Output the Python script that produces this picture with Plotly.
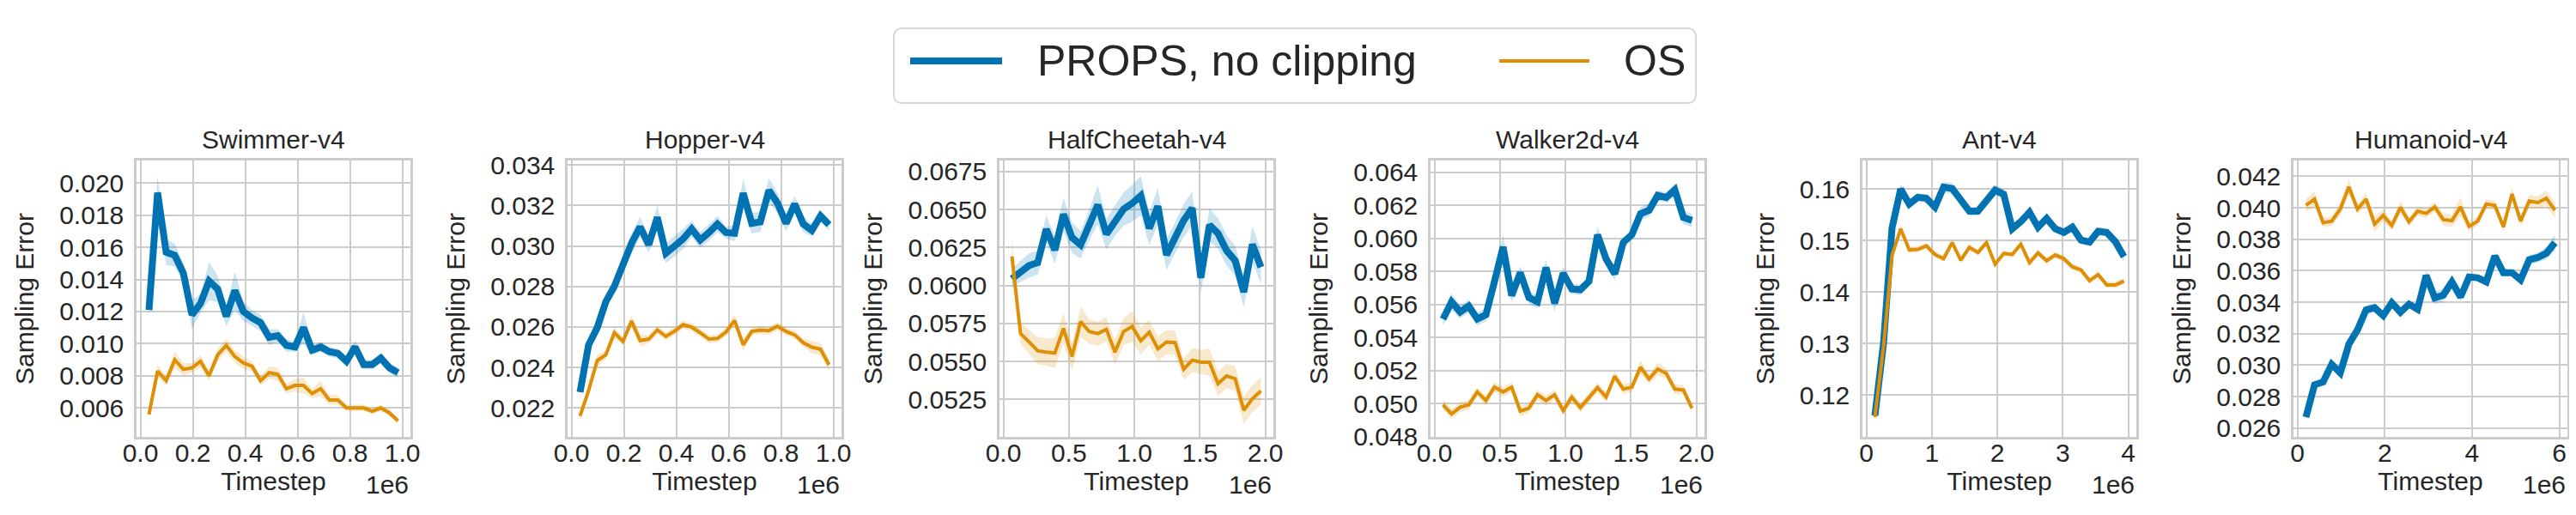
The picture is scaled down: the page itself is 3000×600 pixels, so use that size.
import plotly.graph_objects as go

envs = ["Swimmer-v4", "Hopper-v4", "HalfCheetah-v4", "Walker2d-v4", "Ant-v4", "Humanoid-v4"]
# evaluation interval (timesteps) and number of evaluations per run
eval_every = [32768, 32768, 65536, 65536, 131072, 196608]
n_evals = 30

swimmer_props = [0.0121, 0.0194, 0.0157, 0.0155, 0.0144, 0.0118, 0.0125, 0.0139, 0.0134, 0.0117,
                 0.0133, 0.0120, 0.0116, 0.0113, 0.0104, 0.0105, 0.0099, 0.0098, 0.0110, 0.0096,
                 0.0098, 0.0095, 0.0094, 0.0089, 0.0098, 0.0087, 0.0087, 0.0091, 0.0085, 0.0082]
swimmer_props_err = [0.0004, 0.0010, 0.0008, 0.0007, 0.0006, 0.0009, 0.0006, 0.0012, 0.0008, 0.0006,
                     0.0012, 0.0006, 0.0005, 0.0005, 0.0005, 0.0004, 0.0004, 0.0003, 0.0010, 0.0003,
                     0.0003, 0.0003, 0.0003, 0.0003, 0.0004, 0.0003, 0.0003, 0.0003, 0.0003, 0.0003]
swimmer_os = [0.0056, 0.0083, 0.0077, 0.0090, 0.0084, 0.0085, 0.0089, 0.0080, 0.0093, 0.0099,
              0.0092, 0.0088, 0.0086, 0.0077, 0.0082, 0.0081, 0.0072, 0.0074, 0.0074, 0.0069,
              0.0072, 0.0065, 0.0065, 0.0060, 0.0060, 0.0060, 0.0058, 0.0060, 0.0057, 0.0052]
swimmer_os_err = [0.0002, 0.0004, 0.0003, 0.0005, 0.0004, 0.0003, 0.0004, 0.0003, 0.0004, 0.0004,
                  0.0004, 0.0004, 0.0003, 0.0003, 0.0004, 0.0004, 0.0003, 0.0004, 0.0005, 0.0003,
                  0.0005, 0.0003, 0.0003, 0.0002, 0.0002, 0.0002, 0.0002, 0.0002, 0.0002, 0.0002]

hopper_props = [0.02278, 0.02512, 0.02596, 0.02724, 0.02801, 0.02914, 0.03013, 0.03094, 0.03006, 0.03141,
                0.02964, 0.02999, 0.03035, 0.03084, 0.03030, 0.03066, 0.03108, 0.03066, 0.03063, 0.03261,
                0.03112, 0.03119, 0.03275, 0.03211, 0.03112, 0.03207, 0.03108, 0.03077, 0.03148, 0.03105]
hopper_props_err = [0.0002, 0.0002, 0.0003, 0.0003, 0.0003, 0.0004, 0.0005, 0.0005, 0.0004, 0.0006,
                    0.0005, 0.0005, 0.0005, 0.0004, 0.0004, 0.0004, 0.0004, 0.0003, 0.0004, 0.0007,
                    0.0005, 0.0005, 0.0006, 0.0005, 0.0004, 0.0004, 0.0004, 0.0003, 0.0003, 0.0003]
hopper_os = [0.02160, 0.02286, 0.02434, 0.02462, 0.02572, 0.02529, 0.02629, 0.02533, 0.02540, 0.02585,
             0.02554, 0.02579, 0.02611, 0.02599, 0.02571, 0.02540, 0.02543, 0.02575, 0.02632, 0.02512,
             0.02578, 0.02585, 0.02582, 0.02604, 0.02578, 0.02561, 0.02522, 0.02500, 0.02490, 0.02413]
hopper_os_err = [0.0002, 0.0003, 0.0003, 0.0002, 0.0003, 0.0002, 0.0003, 0.0003, 0.0002, 0.0002,
                 0.0002, 0.0002, 0.0002, 0.0002, 0.0002, 0.0002, 0.0002, 0.0002, 0.0003, 0.0003,
                 0.0002, 0.0002, 0.0002, 0.0002, 0.0002, 0.0002, 0.0002, 0.0003, 0.0003, 0.0003]

cheetah_props = [0.06044, 0.06093, 0.06131, 0.06150, 0.06370, 0.06233, 0.06468, 0.06314, 0.06267, 0.06398,
                 0.06530, 0.06338, 0.06427, 0.06502, 0.06540, 0.06590, 0.06376, 0.06521, 0.06201, 0.06314,
                 0.06427, 0.06508, 0.06050, 0.06398, 0.06342, 0.06229, 0.06163, 0.05956, 0.06270, 0.06120]
cheetah_props_err = [0.0006, 0.0007, 0.0008, 0.0008, 0.0009, 0.0009, 0.0011, 0.0010, 0.0009, 0.0010,
                     0.0013, 0.0010, 0.0010, 0.0011, 0.0012, 0.0013, 0.0011, 0.0012, 0.0010, 0.0010,
                     0.0011, 0.0011, 0.0010, 0.0011, 0.0010, 0.0010, 0.0010, 0.0010, 0.0012, 0.0011]
cheetah_os = [0.06191, 0.05683, 0.05627, 0.05570, 0.05561, 0.05555, 0.05717, 0.05532, 0.05762, 0.05696,
              0.05683, 0.05711, 0.05561, 0.05696, 0.05730, 0.05636, 0.05692, 0.05583, 0.05627, 0.05623,
              0.05448, 0.05508, 0.05495, 0.05495, 0.05353, 0.05404, 0.05386, 0.05178, 0.05254, 0.05306]
cheetah_os_err = [0.0012, 0.0007, 0.0008, 0.0009, 0.0009, 0.0010, 0.0010, 0.0009, 0.0010, 0.0008,
                  0.0008, 0.0008, 0.0008, 0.0009, 0.0010, 0.0009, 0.0008, 0.0008, 0.0008, 0.0008,
                  0.0007, 0.0008, 0.0008, 0.0009, 0.0008, 0.0008, 0.0008, 0.0009, 0.0009, 0.0009]

walker_props = [0.05512, 0.05616, 0.05555, 0.05590, 0.05512, 0.05538, 0.05740, 0.05948, 0.05654, 0.05792,
                0.05642, 0.05616, 0.05824, 0.05607, 0.05789, 0.05694, 0.05689, 0.05740, 0.06022, 0.05875,
                0.05785, 0.05976, 0.06022, 0.06149, 0.06170, 0.06260, 0.06247, 0.06294, 0.06126, 0.06109]
walker_props_err = [0.0004, 0.0005, 0.0004, 0.0004, 0.0004, 0.0004, 0.0004, 0.0007, 0.0004, 0.0004,
                    0.0004, 0.0004, 0.0005, 0.0005, 0.0004, 0.0003, 0.0003, 0.0003, 0.0005, 0.0004,
                    0.0004, 0.0003, 0.0003, 0.0004, 0.0004, 0.0003, 0.0003, 0.0004, 0.0004, 0.0004]
walker_os = [0.04993, 0.04938, 0.04979, 0.04993, 0.05071, 0.05019, 0.05100, 0.05071, 0.05100, 0.04955,
             0.04972, 0.05054, 0.05019, 0.05054, 0.04958, 0.05040, 0.04976, 0.05036, 0.05097, 0.05040,
             0.05166, 0.05088, 0.05100, 0.05221, 0.05149, 0.05209, 0.05183, 0.05088, 0.05083, 0.04972]
walker_os_err = [0.0003, 0.0003, 0.0003, 0.0003, 0.0003, 0.0003, 0.0003, 0.0003, 0.0003, 0.0003,
                 0.0003, 0.0003, 0.0003, 0.0003, 0.0003, 0.0003, 0.0003, 0.0003, 0.0003, 0.0003,
                 0.0003, 0.0003, 0.0003, 0.0004, 0.0003, 0.0004, 0.0003, 0.0003, 0.0003, 0.0003]

ant_props = [0.1160, 0.1300, 0.1525, 0.1600, 0.1571, 0.1584, 0.1582, 0.1565, 0.1604, 0.1601,
             0.1579, 0.1557, 0.1557, 0.1576, 0.1598, 0.1590, 0.1523, 0.1537, 0.1555, 0.1526,
             0.1543, 0.1523, 0.1516, 0.1526, 0.1501, 0.1497, 0.1518, 0.1516, 0.1498, 0.1469]
ant_props_err = [0.0005, 0.0008, 0.0008, 0.0010, 0.0008, 0.0008, 0.0008, 0.0009, 0.0010, 0.0011,
                 0.0010, 0.0009, 0.0008, 0.0009, 0.0010, 0.0010, 0.0009, 0.0008, 0.0009, 0.0009,
                 0.0009, 0.0008, 0.0008, 0.0009, 0.0008, 0.0007, 0.0008, 0.0008, 0.0009, 0.0010]
ant_os = [0.1157, 0.1293, 0.1471, 0.1523, 0.1482, 0.1483, 0.1490, 0.1473, 0.1465, 0.1496,
          0.1462, 0.1487, 0.1477, 0.1496, 0.1454, 0.1475, 0.1473, 0.1493, 0.1457, 0.1476,
          0.1461, 0.1472, 0.1465, 0.1449, 0.1443, 0.1422, 0.1434, 0.1414, 0.1414, 0.1421]
ant_os_err = [0.0004, 0.0006, 0.0006, 0.0006, 0.0006, 0.0006, 0.0006, 0.0006, 0.0006, 0.0006,
              0.0006, 0.0006, 0.0006, 0.0006, 0.0006, 0.0006, 0.0006, 0.0006, 0.0006, 0.0006,
              0.0006, 0.0006, 0.0006, 0.0006, 0.0006, 0.0006, 0.0006, 0.0006, 0.0006, 0.0006]

humanoid_props = [0.02669, 0.02875, 0.02893, 0.03005, 0.02951, 0.03133, 0.03224, 0.03351, 0.03365, 0.03315,
                  0.03396, 0.03336, 0.03387, 0.03355, 0.03569, 0.03427, 0.03445, 0.03529, 0.03433, 0.03560,
                  0.03555, 0.03529, 0.03693, 0.03587, 0.03587, 0.03542, 0.03669, 0.03684, 0.03711, 0.03778]
humanoid_props_err = [0.0002, 0.0002, 0.0002, 0.0002, 0.0002, 0.0003, 0.0003, 0.0003, 0.0003, 0.0002,
                      0.0002, 0.0002, 0.0002, 0.0002, 0.0003, 0.0004, 0.0004, 0.0003, 0.0003, 0.0002,
                      0.0002, 0.0002, 0.0002, 0.0002, 0.0002, 0.0003, 0.0003, 0.0003, 0.0004, 0.0005]
humanoid_os = [0.04015, 0.04055, 0.03905, 0.03915, 0.03991, 0.04133, 0.03991, 0.04055, 0.03896, 0.03951,
               0.03887, 0.04002, 0.03911, 0.03978, 0.03964, 0.04005, 0.03924, 0.03918, 0.04005, 0.03882,
               0.03915, 0.04024, 0.04015, 0.03878, 0.04087, 0.03915, 0.04042, 0.04033, 0.04060, 0.03984]
humanoid_os_err = [0.0004, 0.0005, 0.0003, 0.0003, 0.0004, 0.0005, 0.0003, 0.0004, 0.0005, 0.0004,
                   0.0003, 0.0004, 0.0003, 0.0003, 0.0003, 0.0003, 0.0004, 0.0004, 0.0006, 0.0003,
                   0.0003, 0.0003, 0.0003, 0.0003, 0.0004, 0.0003, 0.0004, 0.0004, 0.0005, 0.0005]

props = [swimmer_props, hopper_props, cheetah_props, walker_props, ant_props, humanoid_props]
props_err = [swimmer_props_err, hopper_props_err, cheetah_props_err, walker_props_err, ant_props_err, humanoid_props_err]
os_mean = [swimmer_os, hopper_os, cheetah_os, walker_os, ant_os, humanoid_os]
os_err = [swimmer_os_err, hopper_os_err, cheetah_os_err, walker_os_err, ant_os_err, humanoid_os_err]

x_tick_vals = [[0, 200000, 400000, 600000, 800000, 1000000],
               [0, 200000, 400000, 600000, 800000, 1000000],
               [0, 500000, 1000000, 1500000, 2000000],
               [0, 500000, 1000000, 1500000, 2000000],
               [0, 1000000, 2000000, 3000000, 4000000],
               [0, 2000000, 4000000, 6000000]]
x_tick_text = [["0.0", "0.2", "0.4", "0.6", "0.8", "1.0"],
               ["0.0", "0.2", "0.4", "0.6", "0.8", "1.0"],
               ["0.0", "0.5", "1.0", "1.5", "2.0"],
               ["0.0", "0.5", "1.0", "1.5", "2.0"],
               ["0", "1", "2", "3", "4"],
               ["0", "2", "4", "6"]]
y_tick0 = [0.006, 0.022, 0.0525, 0.048, 0.12, 0.026]
y_dtick = [0.002, 0.002, 0.0025, 0.002, 0.01, 0.002]
y_fmt = [".3f", ".3f", ".4f", ".3f", ".2f", ".3f"]
y_ranges = [[0.0042, 0.0214], [0.02057, 0.03422], [0.05003, 0.06822],
            [0.04799, 0.06471], [0.11188, 0.16555], [0.02544, 0.0430]]

BLUE = "#0173b2"
ORANGE = "#de8f05"
TXT = "#262626"
GRID = "#cccccc"
FONT = "Liberation Sans, Arial, sans-serif"

W, H = 3000, 600
lefts = [151, 653, 1156, 1658, 2161, 2663]
pw = 319
top_px, bot_px = 179, 501

fig = go.Figure()

for i, env in enumerate(envs):
    n = str(i + 1) if i > 0 else ""
    xa, ya = "x" + n, "y" + n
    ts = [eval_every[i] * (k + 1) for k in range(n_evals)]

    # PROPS first, OS on top of it (as in the reference)
    for mean, err, col, fillc, lw, name in [
            (props[i], props_err[i], BLUE, "rgba(1,115,178,0.2)", 8, "PROPS, no clipping"),
            (os_mean[i], os_err[i], ORANGE, "rgba(222,143,5,0.2)", 4, "OS")]:
        hi = [m + e for m, e in zip(mean, err)]
        lo = [m - e for m, e in zip(mean, err)]
        fig.add_trace(go.Scatter(x=ts + ts[::-1], y=hi + lo[::-1], fill="toself", fillcolor=fillc,
                                 line=dict(width=0), mode="lines", hoverinfo="skip",
                                 showlegend=False, xaxis=xa, yaxis=ya))
        fig.add_trace(go.Scatter(x=ts, y=mean, mode="lines", name=name,
                                 line=dict(color=col, width=lw), showlegend=False, xaxis=xa, yaxis=ya))

    span = ts[-1] - ts[0]
    x0 = lefts[i] / W
    x1 = (lefts[i] + pw) / W
    common = dict(showline=True, mirror=True, linecolor=GRID, linewidth=2.5,
                  showgrid=True, gridcolor=GRID, gridwidth=1.6, zeroline=False,
                  automargin=False, tickfont=dict(size=30, color=TXT, family=FONT))
    fig.layout["xaxis" + n] = dict(common, domain=[x0, x1], anchor=ya,
                                   range=[ts[0] - 0.05 * span, ts[-1] + 0.05 * span],
                                   tickvals=x_tick_vals[i], ticktext=x_tick_text[i],
                                   ticks="", ticklabelstandoff=-10,
                                   title=dict(text="Timestep", font=dict(size=30, color=TXT, family=FONT),
                                              standoff=6))
    fig.layout["yaxis" + n] = dict(common, domain=[1 - bot_px / H, 1 - top_px / H], anchor=xa,
                                   range=y_ranges[i], tick0=y_tick0[i], dtick=y_dtick[i],
                                   tickformat=y_fmt[i], ticks="outside", ticklen=6,
                                   tickcolor="rgba(0,0,0,0)",
                                   title=dict(text="Sampling Error", font=dict(size=30, color=TXT, family=FONT),
                                              standoff=21))
    # subplot title
    fig.add_annotation(x=(x0 + x1) / 2, y=1 - 155 / H, xref="paper", yref="paper",
                       text=env, showarrow=False, xanchor="center", yanchor="middle",
                       font=dict(size=30, color=TXT, family=FONT))
    # offset text
    fig.add_annotation(x=x1, y=1 - 556 / H, xref="paper", yref="paper",
                       text="1e6", showarrow=False, xanchor="right", yanchor="middle",
                       font=dict(size=30, color=TXT, family=FONT))


# legend drawn by hand so the line samples are as long as in the reference
def px_path(points):
    # points given in pixels from the top-left corner -> paper coords
    out = []
    for cmd, coords in points:
        xy = " ".join(f"{x / W:.5f},{1 - y / H:.5f}" for x, y in coords)
        out.append(f"{cmd} {xy}")
    return " ".join(out) + " Z"


lx0, lx1, ly0, ly1, r = 1033, 1967, 25, 112, 10
box = [("M", [(lx0 + r, ly0)]), ("L", [(lx1 - r, ly0)]), ("Q", [(lx1, ly0), (lx1, ly0 + r)]),
       ("L", [(lx1, ly1 - r)]), ("Q", [(lx1, ly1), (lx1 - r, ly1)]), ("L", [(lx0 + r, ly1)]),
       ("Q", [(lx0, ly1), (lx0, ly1 - r)]), ("L", [(lx0, ly0 + r)]), ("Q", [(lx0, ly0), (lx0 + r, ly0)])]

fig.add_shape(type="path", path=px_path(box), xref="paper", yref="paper",
              line=dict(color="#d9d9d9", width=2), fillcolor="rgba(255,255,255,0.8)")
fig.add_shape(type="line", x0=1052 / W, x1=1159 / W, y0=1 - 63 / H, y1=1 - 63 / H,
              xref="paper", yref="paper", line=dict(color=BLUE, width=8))
fig.add_shape(type="line", x0=1738 / W, x1=1843 / W, y0=1 - 63 / H, y1=1 - 63 / H,
              xref="paper", yref="paper", line=dict(color=ORANGE, width=4))
fig.add_annotation(x=1198 / W, y=1 - 63 / H, xref="paper", yref="paper", text="PROPS, no clipping",
                   showarrow=False, xanchor="left", yanchor="middle",
                   font=dict(size=50, color=TXT, family=FONT))
fig.add_annotation(x=1881 / W, y=1 - 63 / H, xref="paper", yref="paper", text="OS",
                   showarrow=False, xanchor="left", yanchor="middle",
                   font=dict(size=50, color=TXT, family=FONT))

fig.update_layout(width=W, height=H, margin=dict(l=0, r=0, t=0, b=0),
                  paper_bgcolor="white", plot_bgcolor="white",
                  font=dict(family=FONT, color=TXT))

fig.write_html("out.html")
